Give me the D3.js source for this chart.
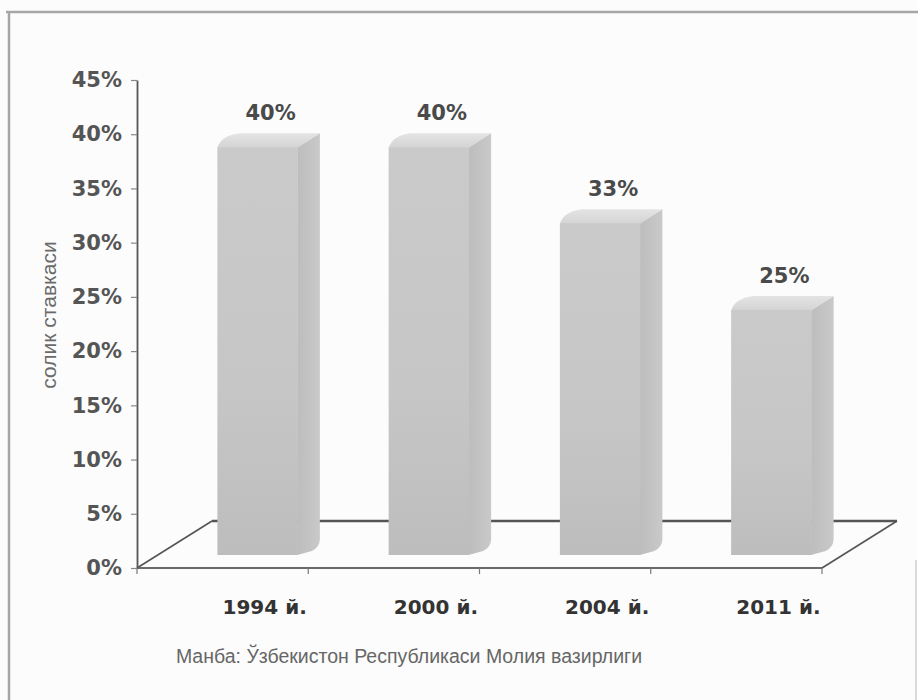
<!DOCTYPE html>
<html>
<head>
<meta charset="utf-8">
<script src="https://cdn.jsdelivr.net/npm/d3@7"></script>
<style>
  html, body { margin: 0; padding: 0; background: #fcfcfc; }
  svg { display: block; }
</style>
</head>
<body>
<svg id="chart" width="918" height="700"></svg>
<script>
// ---- data ----
const categories = ["1994 й.", "2000 й.", "2004 й.", "2011 й."];
const values = [40, 40, 33, 25];
const valueLabels = ["40%", "40%", "33%", "25%"];
const yTickValues = [0, 5, 10, 15, 20, 25, 30, 35, 40, 45];
const yAxisTitle = "солик ставкаси";
const sourceText = "Манба: Ўзбекистон Республикаси Молия вазирлиги";

const svg = d3.select("#chart");
const W = 918, H = 700;

// frame
svg.append("rect").attr("x", 0).attr("y", 0).attr("width", W).attr("height", H).attr("fill", "#fcfcfc");
svg.append("line").attr("x1", 9).attr("y1", 12).attr("x2", 9).attr("y2", H).attr("stroke", "#a6a6a6").attr("stroke-width", 2.5);
svg.append("line").attr("x1", 6).attr("y1", 12).attr("x2", W).attr("y2", 12).attr("stroke", "#a6a6a6").attr("stroke-width", 2.5);
svg.append("line").attr("x1", 916).attr("y1", 560).attr("x2", 916).attr("y2", H).attr("stroke", "#d0d0d0").attr("stroke-width", 1.5);

// scales
const y = d3.scaleLinear().domain([0, 45]).range([568, 80]);
const x = d3.scaleBand().domain(categories).range([137, 822]).paddingInner(0.53).paddingOuter(0.265);

const depthX = 75, depthY = -47;     // floor depth
const barDX = 22, barDY = -14;       // bar side depth
const barShift = 35;                 // bars sit mid-depth
const inset = 13;

// defs gradients
const defs = svg.append("defs");
const gFront = defs.append("linearGradient").attr("id", "gFront").attr("x1", 0).attr("x2", 0).attr("y1", 0).attr("y2", 1);
gFront.append("stop").attr("offset", "0%").attr("stop-color", "#cacaca");
gFront.append("stop").attr("offset", "60%").attr("stop-color", "#c6c6c6");
gFront.append("stop").attr("offset", "100%").attr("stop-color", "#bdbdbd");
const gSide = defs.append("linearGradient").attr("id", "gSide").attr("x1", 0).attr("x2", 1).attr("y1", 0).attr("y2", 0);
gSide.append("stop").attr("offset", "0%").attr("stop-color", "#bdbdbd");
gSide.append("stop").attr("offset", "100%").attr("stop-color", "#c9c9c9");
const gTop = defs.append("linearGradient").attr("id", "gTop").attr("x1", 0).attr("x2", 0).attr("y1", 1).attr("y2", 0);
gTop.append("stop").attr("offset", "0%").attr("stop-color", "#d4d4d4");
gTop.append("stop").attr("offset", "100%").attr("stop-color", "#e4e4e4");

// floor
const x0 = x.range()[0], x1 = x.range()[1], y0 = y(0);
const floor = svg.append("g").attr("stroke", "#555").attr("fill", "none");
floor.append("line").attr("x1", x0 + depthX).attr("y1", y0 + depthY).attr("x2", x1 + depthX).attr("y2", y0 + depthY).attr("stroke-width", 2.5);
floor.append("line").attr("x1", x0).attr("y1", y0).attr("x2", x0 + depthX).attr("y2", y0 + depthY).attr("stroke-width", 1.6);
floor.append("line").attr("x1", x1).attr("y1", y0).attr("x2", x1 + depthX).attr("y2", y0 + depthY).attr("stroke-width", 1.6);
floor.append("line").attr("x1", x0).attr("y1", y0).attr("x2", x1).attr("y2", y0).attr("stroke-width", 2.2).attr("stroke", "#6a6a6a");

// category boundary ticks
const bounds = categories.map(c => x(c) - x.step() * x.paddingInner() / 2).concat([x1]);
bounds[0] = x0;
svg.append("g").selectAll("line").data(bounds).join("line")
  .attr("x1", d => d).attr("x2", d => d).attr("y1", y0).attr("y2", y0 + 6)
  .attr("stroke", "#777").attr("stroke-width", 1.2);

// bars
const bars = svg.append("g").selectAll("g").data(categories).join("g");
bars.each(function(c, i) {
  const g = d3.select(this);
  const bw = x.bandwidth();
  const bx0 = x(c) + barShift, bx1 = bx0 + bw;
  const yt = y(values[i]) + inset, yb = y(0) - inset;
  // side
  g.append("path").attr("d",
      `M${bx1 - 0.5},${yt} L${bx1 + barDX},${yt + barDY} L${bx1 + barDX},${yb + barDY - 2} ` +
      `Q${bx1 + barDX},${yb + barDY + 6} ${bx1 + barDX - 8},${yb - 4} L${bx1 - 0.5},${yb} Z`)
    .attr("fill", "url(#gSide)");
  // top
  g.append("path").attr("d",
      `M${bx0},${yt + 0.5} Q${bx0 + 4},${yt + barDY + 2} ${bx0 + barDX},${yt + barDY} L${bx1 + barDX},${yt + barDY} L${bx1},${yt + 0.5} Z`)
    .attr("fill", "url(#gTop)");
  // front
  g.append("rect").attr("x", bx0).attr("y", yt).attr("width", bw).attr("height", yb - yt)
    .attr("fill", "url(#gFront)");
  // value label
  g.append("text").attr("x", (bx0 + bx1) / 2 + 13).attr("y", yt - 27)
    .attr("text-anchor", "middle")
    .attr("font-family", "DejaVu Sans, sans-serif").attr("font-weight", "bold").attr("font-size", 21)
    .attr("fill", "#4a4a4a").text(valueLabels[i]);
});

// y axis
const yAxis = d3.axisLeft(y).tickValues(yTickValues).tickFormat(d => d + "%").tickSizeInner(6).tickSizeOuter(0).tickPadding(9);
const ya = svg.append("g").attr("transform", `translate(${x0},0)`).call(yAxis);
ya.select(".domain").attr("stroke", "#555").attr("stroke-width", 1.8);
ya.selectAll(".tick line").attr("stroke", "#888").attr("stroke-width", 1.2);
ya.selectAll(".tick text").attr("font-family", "DejaVu Sans, sans-serif").attr("font-weight", "bold")
  .attr("font-size", 21).attr("fill", "#555");

// x labels
svg.append("g").selectAll("text").data(categories).join("text")
  .attr("x", c => x(c) + x.bandwidth() / 2 + 42)
  .attr("y", 614)
  .attr("text-anchor", "middle")
  .attr("font-family", "DejaVu Sans, sans-serif").attr("font-weight", "bold").attr("font-size", 20)
  .attr("fill", "#333").text(c => c);

// y title
svg.append("text").attr("transform", "translate(56,315) rotate(-90)")
  .attr("text-anchor", "middle")
  .attr("font-family", "Liberation Sans, Arial, sans-serif").attr("font-size", 21)
  .attr("fill", "#6a6a6a").text(yAxisTitle);

// source
svg.append("text").attr("x", 409).attr("y", 663).attr("text-anchor", "middle")
  .attr("font-family", "Liberation Sans, Arial, sans-serif").attr("font-size", 19.5)
  .attr("fill", "#666").text(sourceText);
</script>
</body>
</html>
